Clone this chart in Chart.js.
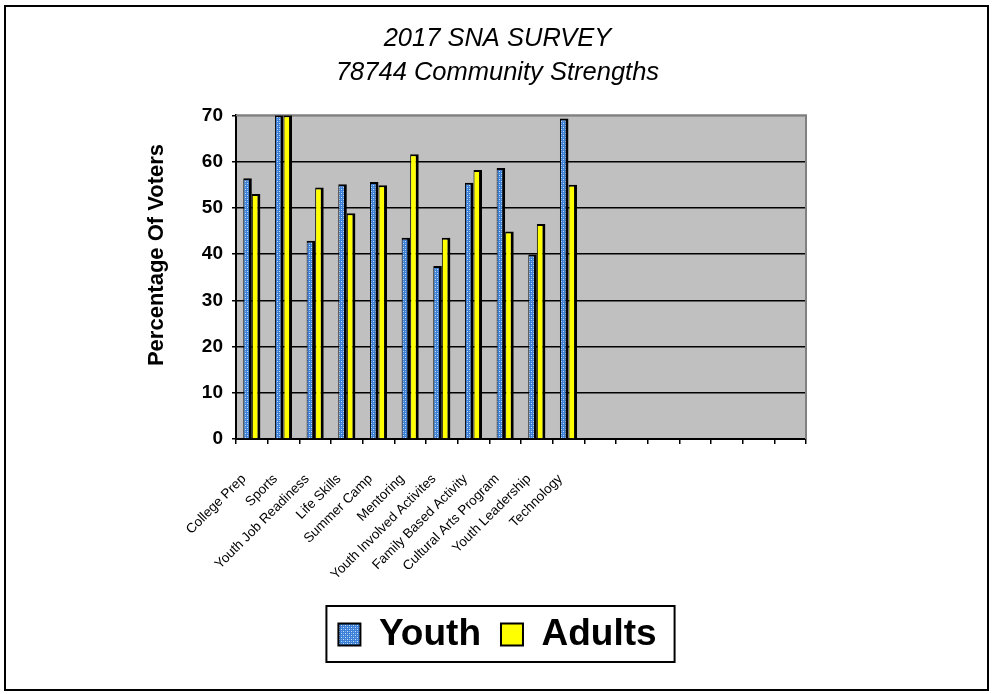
<!DOCTYPE html>
<html lang="en">
<head>
    <meta charset="UTF-8">
    <title>2017 SNA Survey - 78744 Community Strengths</title>
    <script src="https://cdn.jsdelivr.net/npm/chart.js"></script>
    <style>
        body {
            margin: 0;
            background: #fff;
        }
        #wrap {
            position: relative;
            width: 995px;
            height: 694px;
        }
        #frame {
            position: absolute;
            left: 4px;
            top: 5px;
            width: 985px;
            height: 686px;
            border: 2px solid #000;
            box-sizing: border-box;
            pointer-events: none;
        }
    </style>
</head>
<body>
    <div id="wrap">
        <canvas id="chart" width="995" height="694"></canvas>
        <div id="frame"></div>
    </div>

    <script>
        // categories (the empty ones keep the extra slots on the right of the axis)
        const categories = [
            "College Prep", "Sports", "Youth Job Readiness", "Life Skills", "Summer Camp",
            "Mentoring", "Youth Involved Activites", "Family Based Activity",
            "Cultural Arts Program", "Youth Leadership", "Technology",
            "", "", "", "", "", "", ""
        ];
        const youthValues  = [56.4, 70, 42.9, 55.1, 55.6, 43.5, 37.4, 55.4, 58.6, 39.9, 69.3];
        const adultValues  = [53.0, 70, 54.4, 48.8, 54.9, 61.6, 43.5, 58.2, 44.9, 46.5, 55.0];
        const titleLines   = ["2017 SNA SURVEY", "78744 Community Strengths"];
        const yAxisTitle   = "Percentage Of Voters";

        const FONT = "Arial, 'Liberation Sans', sans-serif";

        // blue with light dots, like the old excel fill
        function makeYouthPattern() {
            const c = document.createElement("canvas");
            c.width = 4;
            c.height = 4;
            const g = c.getContext("2d");
            g.fillStyle = "#3b7fd6";
            g.fillRect(0, 0, 4, 4);
            g.fillStyle = "#c9defa";
            g.fillRect(1, 1, 1, 1);
            g.fillRect(3, 3, 1, 1);
            g.fillStyle = "#7fb0ee";
            g.fillRect(3, 1, 1, 1);
            g.fillRect(1, 3, 1, 1);
            return g.createPattern(c, "repeat");
        }
        const youthFill = makeYouthPattern();
        const adultFill = "#ffff00";

        const plotBackground = {
            id: "plotBackground",
            beforeDraw(chart) {
                const a = chart.chartArea;
                const ctx = chart.ctx;
                ctx.save();
                ctx.fillStyle = "#c0c0c0";
                ctx.fillRect(a.left, a.top, a.right - a.left, a.bottom - a.top);
                ctx.restore();
            },
            beforeDatasetsDraw(chart) {
                const a = chart.chartArea;
                const ctx = chart.ctx;
                ctx.save();
                ctx.strokeStyle = "#808080";
                ctx.lineWidth = 2;
                ctx.beginPath();
                ctx.moveTo(a.left, a.top);
                ctx.lineTo(a.right, a.top);
                ctx.lineTo(a.right, a.bottom);
                ctx.stroke();
                ctx.restore();
            }
        };

        // rotated axis title sits a bit above the middle of the plot in the original
        const yTitle = {
            id: "yTitle",
            afterDraw(chart) {
                const ctx = chart.ctx;
                ctx.save();
                ctx.translate(157, 255);
                ctx.rotate(-Math.PI / 2);
                ctx.font = "bold 22px " + FONT;
                ctx.fillStyle = "#000";
                ctx.textAlign = "center";
                ctx.textBaseline = "middle";
                ctx.fillText(yAxisTitle, 0, 0);
                ctx.restore();
            }
        };

        const legendFrame = {
            id: "legendFrame",
            afterDraw(chart) {
                const boxes = chart.legend.legendHitBoxes;
                if (!boxes || !boxes.length) return;
                const left = Math.min(...boxes.map(b => b.left)) - 12;
                const right = Math.max(...boxes.map(b => b.left + b.width)) + 18;
                const top = boxes[0].top - 10;
                const bottom = boxes[0].top + boxes[0].height + 9;
                const ctx = chart.ctx;
                ctx.save();
                ctx.strokeStyle = "#000";
                ctx.lineWidth = 2;
                ctx.strokeRect(left, top, right - left, bottom - top);
                ctx.restore();
            }
        };

        const barBorder = { top: 2, right: 3, bottom: 0, left: 1 };

        new Chart(document.getElementById("chart").getContext("2d"), {
            type: "bar",
            data: {
                labels: categories,
                datasets: [{
                    label: "Youth",
                    data: youthValues,
                    backgroundColor: youthFill,
                    borderColor: "#000",
                    borderWidth: barBorder
                }, {
                    label: "Adults",
                    data: adultValues,
                    backgroundColor: adultFill,
                    borderColor: "#000",
                    borderWidth: barBorder
                }]
            },
            options: {
                responsive: false,
                animation: false,
                categoryPercentage: 0.54,
                barPercentage: 1.0,
                layout: {
                    padding: { top: 10, left: 0, right: 0, bottom: 31 }
                },
                plugins: {
                    title: {
                        display: true,
                        text: titleLines,
                        color: "#000",
                        font: { family: FONT, size: 25.5, style: "italic", weight: "normal", lineHeight: 1.32 },
                        padding: { top: 12, bottom: 26 }
                    },
                    legend: {
                        position: "bottom",
                        labels: {
                            color: "#000",
                            font: { family: FONT, size: 37, weight: "bold" },
                            boxWidth: 22,
                            boxHeight: 22,
                            padding: 20,
                            generateLabels(chart) {
                                return chart.data.datasets.map((ds, i) => ({
                                    text: ds.label,
                                    fillStyle: ds.backgroundColor,
                                    strokeStyle: "#000",
                                    lineWidth: 2,
                                    fontColor: "#000",
                                    hidden: false,
                                    datasetIndex: i
                                }));
                            }
                        }
                    },
                    tooltip: { enabled: false }
                },
                scales: {
                    x: {
                        afterFit(scale) { scale.height = 157; },
                        grid: {
                            display: true,
                            drawOnChartArea: false,
                            drawTicks: true,
                            tickLength: 5,
                            color: "#000",
                            lineWidth: 1.5
                        },
                        border: { color: "#000", width: 2 },
                        ticks: {
                            autoSkip: false,
                            minRotation: 45,
                            maxRotation: 45,
                            padding: 27,
                            labelOffset: -8,
                            color: "#000",
                            font: { family: FONT, size: 13.5 }
                        }
                    },
                    y: {
                        min: 0,
                        max: 70,
                        afterFit(scale) { scale.width = 236; },
                        grid: {
                            color: ctx => ctx.tick && ctx.tick.value === 70 ? "#808080" : "#000",
                            tickColor: "#000",
                            lineWidth: 1.5,
                            tickLength: 4
                        },
                        border: { color: "#000", width: 2 },
                        ticks: {
                            stepSize: 10,
                            padding: 9,
                            color: "#000",
                            font: { family: FONT, size: 19, weight: "bold" }
                        }
                    },
                    // empty space on the right of the plot, keeps title and legend centred on the page
                    spacer: {
                        type: "linear",
                        position: "right",
                        afterFit(scale) { scale.width = 189; },
                        grid: { display: false },
                        border: { display: false },
                        ticks: { display: false }
                    }
                }
            },
            plugins: [plotBackground, yTitle, legendFrame]
        });
    </script>
</body>
</html>
